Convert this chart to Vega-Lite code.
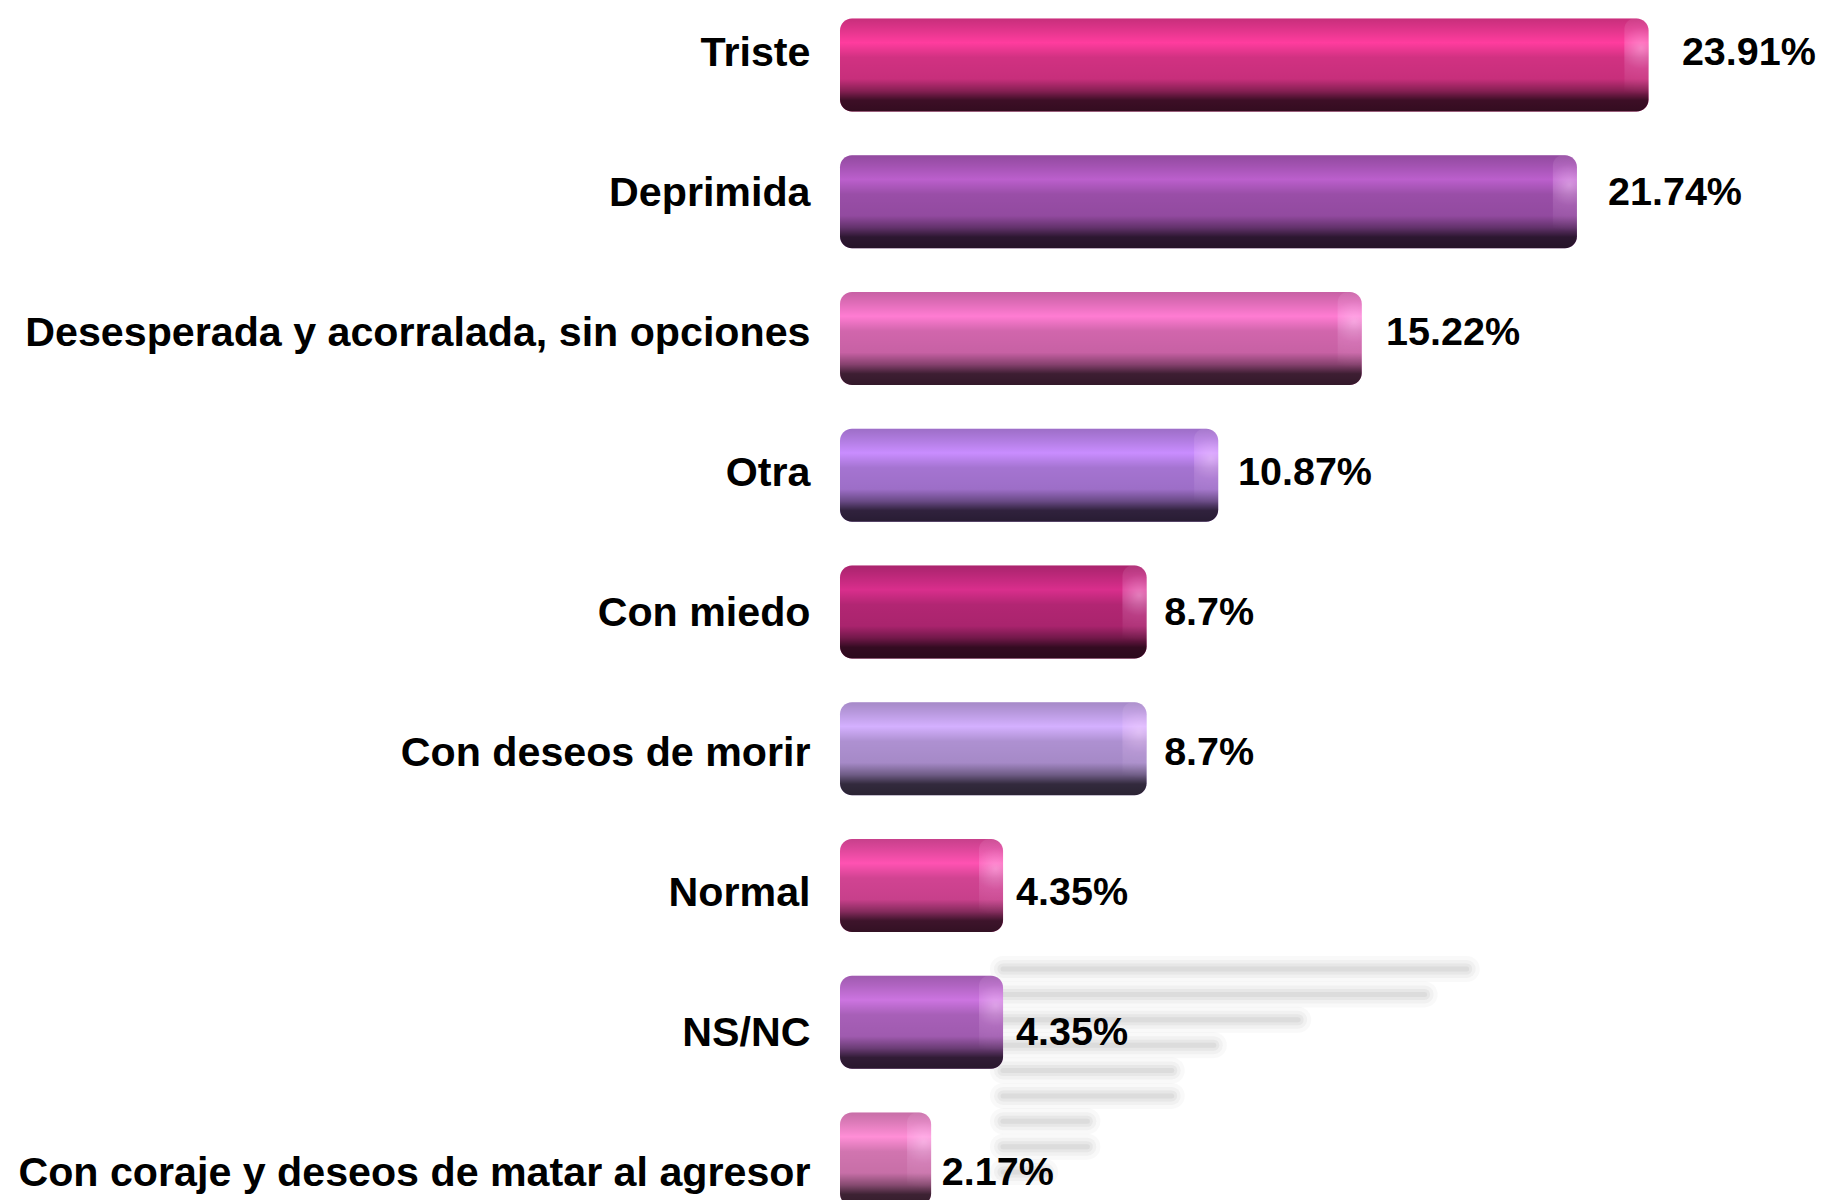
{
  "$schema": "https://vega.github.io/schema/vega-lite/v6.json",
  "width": 984,
  "height": 1200,
  "autosize": {"type": "none"},
  "padding": {"left": 840, "top": 0, "right": 0, "bottom": 0},
  "background": "white",
  "config": {"view": {"stroke": null}, "font": "Liberation Sans"},
  "data": {
    "values": [
      {"cat": "Triste", "pct": 23.91, "label": "23.91%"},
      {"cat": "Deprimida", "pct": 21.74, "label": "21.74%"},
      {"cat": "Desesperada y acorralada, sin opciones", "pct": 15.22, "label": "15.22%"},
      {"cat": "Otra", "pct": 10.87, "label": "10.87%"},
      {"cat": "Con miedo", "pct": 8.7, "label": "8.7%"},
      {"cat": "Con deseos de morir", "pct": 8.7, "label": "8.7%"},
      {"cat": "Normal", "pct": 4.35, "label": "4.35%"},
      {"cat": "NS/NC", "pct": 4.35, "label": "4.35%"},
      {"cat": "Con coraje y deseos de matar al agresor", "pct": 2.17, "label": "2.17%"}
    ]
  },
  "layer": [
    {
      "mark": {"type": "rule", "color": "#9a9a9a", "strokeWidth": 26, "opacity": 0.06, "strokeCap": "round"},
      "encoding": {
        "y": {"field": "cat", "type": "nominal", "sort": null, "axis": null, "scale": {"type": "point", "range": [969, 1172], "padding": 0}},
        "x": {"field": "pct", "type": "quantitative", "axis": null, "scale": {"domain": [0, 28], "range": [163, 706], "nice": false}},
        "x2": {"datum": 0}
      }
    },
    {
      "mark": {"type": "rule", "color": "#9a9a9a", "strokeWidth": 18, "opacity": 0.08, "strokeCap": "round"},
      "encoding": {
        "y": {"field": "cat", "type": "nominal", "sort": null, "axis": null, "scale": {"type": "point", "range": [969, 1172], "padding": 0}},
        "x": {"field": "pct", "type": "quantitative", "axis": null, "scale": {"domain": [0, 28], "range": [163, 706], "nice": false}},
        "x2": {"datum": 0}
      }
    },
    {
      "mark": {"type": "rule", "color": "#9a9a9a", "strokeWidth": 11, "opacity": 0.11, "strokeCap": "round"},
      "encoding": {
        "y": {"field": "cat", "type": "nominal", "sort": null, "axis": null, "scale": {"type": "point", "range": [969, 1172], "padding": 0}},
        "x": {"field": "pct", "type": "quantitative", "axis": null, "scale": {"domain": [0, 28], "range": [163, 706], "nice": false}},
        "x2": {"datum": 0}
      }
    },
    {
      "mark": {"type": "rule", "color": "#9a9a9a", "strokeWidth": 5, "opacity": 0.14, "strokeCap": "round"},
      "encoding": {
        "y": {"field": "cat", "type": "nominal", "sort": null, "axis": null, "scale": {"type": "point", "range": [969, 1172], "padding": 0}},
        "x": {"field": "pct", "type": "quantitative", "axis": null, "scale": {"domain": [0, 28], "range": [163, 706], "nice": false}},
        "x2": {"datum": 0}
      }
    },
    {
      "mark": {"type": "bar", "cornerRadius": 12, "x2Offset": -19.5},
      "encoding": {
        "y": {"field": "cat", "type": "nominal", "sort": null, "axis": null, "scale": {"type": "band", "range": [-3.4, 1227.4], "paddingInner": 0.32, "paddingOuter": 0.16}},
        "x": {"field": "pct", "type": "quantitative", "axis": null, "scale": {"domain": [0, 28], "range": [19.5, 943.5], "nice": false}},
        "x2": {"datum": 0},
        "color": {
          "field": "cat", "type": "nominal", "sort": null, "legend": null,
          "scale": {
            "domain": ["Triste", "Deprimida", "Desesperada y acorralada, sin opciones", "Otra", "Con miedo", "Con deseos de morir", "Normal", "NS/NC", "Con coraje y deseos de matar al agresor"],
            "range": ["#ff3c9e", "#bb5fcc", "#ff7cd2", "#c98dff", "#d92e8c", "#d4b0ff", "#ff52b2", "#cc74e0", "#ff8ed6"]
          }
        }
      }
    },
    {
      "mark": {
        "type": "bar", "cornerRadius": 12, "x2Offset": -19.5,
        "fill": {
          "gradient": "linear", "x1": 0, "y1": 0, "x2": 0, "y2": 1,
          "stops": [
            {"offset": 0, "color": "rgba(0,0,0,0.22)"},
            {"offset": 0.1, "color": "rgba(0,0,0,0.14)"},
            {"offset": 0.26, "color": "rgba(0,0,0,0)"},
            {"offset": 0.42, "color": "rgba(0,0,0,0.18)"},
            {"offset": 0.65, "color": "rgba(0,0,0,0.22)"},
            {"offset": 0.78, "color": "rgba(0,0,0,0.48)"},
            {"offset": 0.88, "color": "rgba(0,0,0,0.76)"},
            {"offset": 1, "color": "rgba(0,0,0,0.8)"}
          ]
        }
      },
      "encoding": {
        "y": {"field": "cat", "type": "nominal", "sort": null, "axis": null, "scale": {"type": "band", "range": [-3.4, 1227.4], "paddingInner": 0.32, "paddingOuter": 0.16}},
        "x": {"field": "pct", "type": "quantitative", "axis": null, "scale": {"domain": [0, 28], "range": [19.5, 943.5], "nice": false}},
        "x2": {"datum": 0},
        "opacity": {
          "field": "cat", "type": "nominal", "sort": null, "legend": null,
          "scale": {
            "domain": ["Triste", "Deprimida", "Desesperada y acorralada, sin opciones", "Otra", "Con miedo", "Con deseos de morir", "Normal", "NS/NC", "Con coraje y deseos de matar al agresor"],
            "range": [1, 1, 1, 0.9, 1, 0.7, 1, 1, 0.95]
          }
        }
      }
    },
    {
      "mark": {
        "type": "bar", "cornerRadius": 10, "x2Offset": -24,
        "fill": {
          "gradient": "radial", "x1": 0.55, "y1": 0.32, "r1": 0, "x2": 0.55, "y2": 0.32, "r2": 0.5,
          "stops": [
            {"offset": 0, "color": "rgba(255,225,255,0.45)"},
            {"offset": 0.45, "color": "rgba(255,210,255,0.14)"},
            {"offset": 1, "color": "rgba(255,255,255,0)"}
          ]
        }
      },
      "encoding": {
        "y": {"field": "cat", "type": "nominal", "sort": null, "axis": null, "scale": {"type": "band", "range": [-3.4, 1227.4], "paddingInner": 0.32, "paddingOuter": 0.16}},
        "x": {"field": "pct", "type": "quantitative", "axis": null, "scale": {"domain": [0, 28], "range": [19.5, 943.5], "nice": false}},
        "x2": {"field": "pct"}
      }
    },
    {
      "mark": {"type": "text", "align": "left", "baseline": "alphabetic", "fontSize": 39.5, "fontWeight": "bold", "font": "Liberation Sans", "color": "#000000"},
      "encoding": {
        "y": {
          "field": "cat", "type": "nominal", "sort": null,
          "scale": {"type": "point", "range": [65, 1185], "padding": 0},
          "axis": {"title": null, "domain": false, "ticks": false, "grid": false, "labelFontSize": 41.2, "labelFont": "Liberation Sans", "labelFontWeight": "bold", "labelColor": "#000000", "labelPadding": 30, "labelBaseline": "alphabetic", "labelLimit": 0, "labelOverlap": false}
        },
        "x": {"field": "pct", "type": "quantitative", "axis": null, "scale": {"domain": [0, 28], "range": [28, 981.1], "nice": false}},
        "text": {"field": "label"}
      }
    }
  ],
  "resolve": {"scale": {"x": "independent", "y": "independent", "color": "independent", "opacity": "independent"}}
}
